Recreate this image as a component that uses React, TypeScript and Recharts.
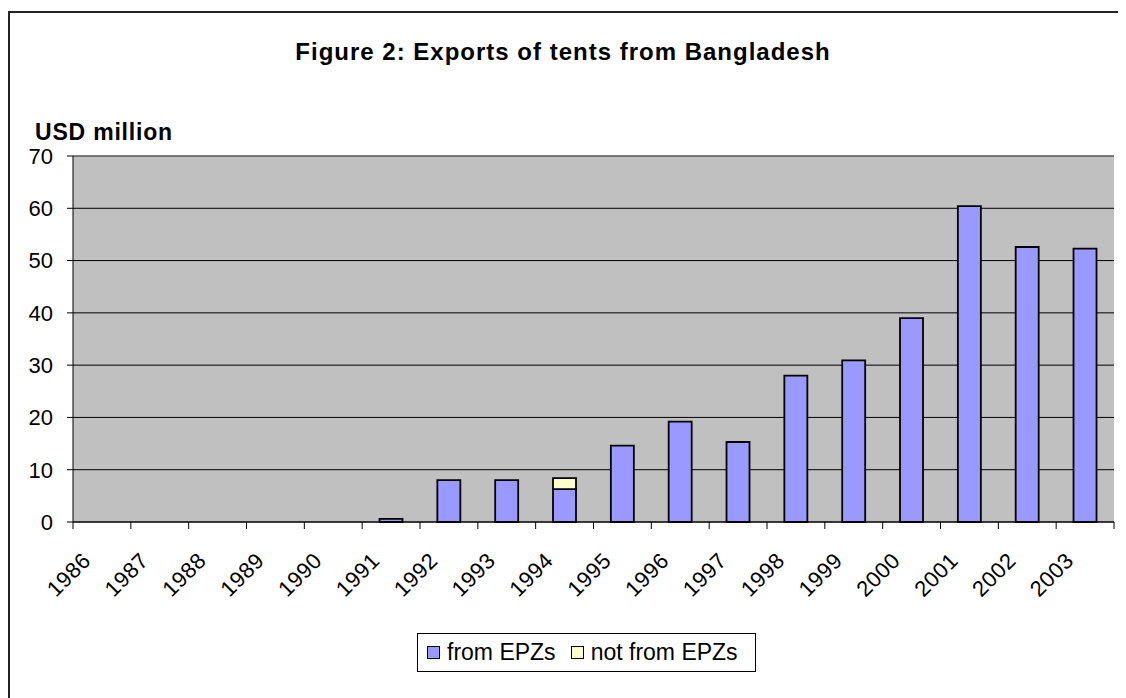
import React from "react";
import {
  Bar,
  BarChart,
  CartesianGrid,
  ReferenceLine,
  XAxis,
  YAxis,
} from "recharts";

const years = [
  "1986", "1987", "1988", "1989", "1990", "1991", "1992", "1993", "1994",
  "1995", "1996", "1997", "1998", "1999", "2000", "2001", "2002", "2003",
];
const fromEPZs = [0, 0, 0, 0, 0, 0.6, 8.0, 8.0, 6.3, 14.6, 19.2, 15.3, 28.0, 30.9, 39.0, 60.4, 52.6, 52.3];
const notFromEPZs = [0, 0, 0, 0, 0, 0, 0, 0, 2.1, 0, 0, 0, 0, 0, 0, 0, 0, 0];
const yTicks = [0, 10, 20, 30, 40, 50, 60, 70];

const data = years.map((year, i) => ({
  year,
  epz: fromEPZs[i],
  nonEpz: notFromEPZs[i],
}));

const W = 1118;
const H = 690;
const margin = { top: 148, right: 12, left: 5, bottom: 116 };
const Y_AXIS_W = 60;
const X_AXIS_H = 60;
const plotW = W - margin.left - Y_AXIS_W - margin.right;
const band = plotW / years.length;
const font = "Arial, 'Liberation Sans', sans-serif";

function YearTick({ x, y, payload, index }: any) {
  const last = index === years.length - 1;
  return (
    <g>
      <line x1={x - band / 2} x2={x - band / 2} y1={y - 7} y2={y} stroke="#000" />
      {last && <line x1={x + band / 2} x2={x + band / 2} y1={y - 7} y2={y} stroke="#000" />}
      <text
        x={x - 10}
        y={y + 33}
        textAnchor="end"
        transform={`rotate(-45 ${x - 10} ${y + 33})`}
        fontSize={22}
        letterSpacing={0.5}
        fontFamily={font}
        fill="#000"
      >
        {payload.value}
      </text>
    </g>
  );
}

function Swatch({ color }: { color: string }) {
  return (
    <span
      style={{
        display: "inline-block",
        width: 11,
        height: 11,
        background: color,
        border: "1px solid #000",
        marginRight: 7,
      }}
    />
  );
}

export default function App() {
  return (
    <div style={{ position: "relative", width: W, height: H, fontFamily: font }}>
      <div
        style={{
          position: "absolute",
          left: 0,
          top: 3,
          width: 1110,
          height: H - 3,
          borderLeft: "2px solid #222",
          borderTop: "2px solid #222",
        }}
      />
      <div
        style={{
          position: "absolute",
          top: 32,
          left: 0,
          width: 1110,
          textAlign: "center",
          fontSize: 24,
          lineHeight: "24px",
          letterSpacing: 1,
          fontWeight: "bold",
        }}
      >
        Figure 2: Exports of tents from Bangladesh
      </div>
      <div
        style={{
          position: "absolute",
          top: 113,
          left: 27,
          fontSize: 23,
          lineHeight: "23px",
          letterSpacing: 0.8,
          fontWeight: "bold",
        }}
      >
        USD million
      </div>
      <BarChart
        width={W}
        height={H}
        data={data}
        margin={margin}
        barCategoryGap="30%"
        style={{ position: "absolute", left: 0, top: 0 }}
      >
        <CartesianGrid vertical={false} fill="#C0C0C0" stroke="#000" strokeWidth={1} />
        <XAxis
          dataKey="year"
          height={X_AXIS_H}
          interval={0}
          tickSize={7}
          tickMargin={0}
          tickLine={false}
          axisLine={{ stroke: "#000" }}
          tick={<YearTick />}
        />
        <YAxis
          width={Y_AXIS_W}
          domain={[0, 70]}
          ticks={yTicks}
          interval={0}
          tickSize={6}
          tickMargin={14}
          axisLine={{ stroke: "#000" }}
          tickLine={{ stroke: "#000" }}
          tick={{ fontSize: 22, fill: "#000", fontFamily: font }}
        />
        <YAxis
          yAxisId="right"
          orientation="right"
          width={0}
          domain={[0, 70]}
          tick={false}
          tickLine={false}
          axisLine={{ stroke: "#808080" }}
        />
        <ReferenceLine y={70} stroke="#808080" />
        <Bar
          dataKey="epz"
          stackId="a"
          fill="#9999FF"
          stroke="#000"
          strokeWidth={1.8}
          isAnimationActive={false}
        />
        <Bar
          dataKey="nonEpz"
          stackId="a"
          fill="#FFFFCC"
          stroke="#000"
          strokeWidth={1.8}
          isAnimationActive={false}
        />
      </BarChart>
      <div
        style={{
          position: "absolute",
          left: 409,
          top: 625,
          width: 328,
          height: 37,
          paddingLeft: 9,
          border: "1px solid #000",
          background: "#fff",
          display: "flex",
          alignItems: "center",
          fontSize: 23,
        }}
      >
        <Swatch color="#9999FF" />
        <span style={{ marginRight: 15 }}>from EPZs</span>
        <Swatch color="#FFFFCC" />
        <span>not from EPZs</span>
      </div>
    </div>
  );
}
